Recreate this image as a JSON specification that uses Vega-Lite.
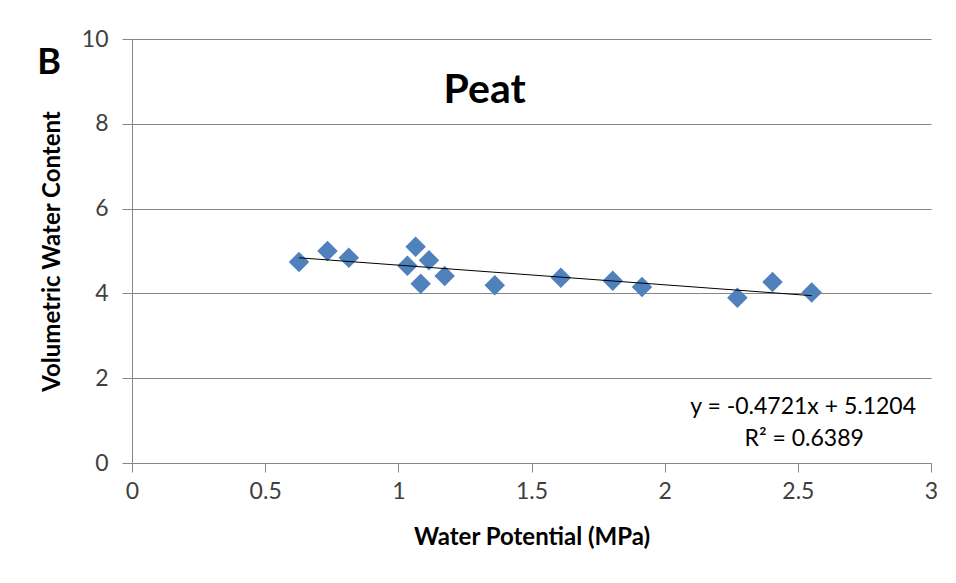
{
  "$schema": "https://vega.github.io/schema/vega-lite/v6.json",
  "width": 799,
  "height": 424,
  "autosize": {"type": "none"},
  "padding": {"left": 132, "top": 39, "right": 25, "bottom": 120},
  "background": "white",
  "config": {
    "font": "Lato",
    "view": {"stroke": null}
  },
  "datasets": {
    "points": [
      {"wp": 0.627, "vwc": 4.74},
      {"wp": 0.734, "vwc": 5.00},
      {"wp": 0.814, "vwc": 4.84},
      {"wp": 1.065, "vwc": 5.10},
      {"wp": 1.034, "vwc": 4.65},
      {"wp": 1.115, "vwc": 4.78},
      {"wp": 1.084, "vwc": 4.23},
      {"wp": 1.174, "vwc": 4.41},
      {"wp": 1.362, "vwc": 4.19},
      {"wp": 1.610, "vwc": 4.37},
      {"wp": 1.805, "vwc": 4.30},
      {"wp": 1.915, "vwc": 4.15},
      {"wp": 2.273, "vwc": 3.90},
      {"wp": 2.405, "vwc": 4.27},
      {"wp": 2.552, "vwc": 4.02}
    ],
    "labels": [
      {"label": "B", "lx": -0.311, "ly": 9.17, "kind": "panel"},
      {"label": "Peat", "lx": 1.324, "ly": 8.5, "kind": "title"},
      {"label": "y = -0.4721x + 5.1204", "lx": 2.52, "ly": 1.166, "kind": "eq"},
      {"label": "R² = 0.6389", "lx": 2.524, "ly": 0.4, "kind": "eq"}
    ]
  },
  "layer": [
    {
      "data": {"name": "points"},
      "mark": {"type": "point", "shape": "diamond", "filled": true, "size": 420, "color": "#4F81BD", "opacity": 1},
      "encoding": {
        "x": {
          "field": "wp", "type": "quantitative",
          "scale": {"domain": [0, 3], "nice": false, "zero": false},
          "axis": {
            "title": "Water Potential (MPa)",
            "values": [0, 0.5, 1, 1.5, 2, 2.5, 3],
            "format": "~g",
            "grid": false,
            "domainColor": "#868686",
            "tickColor": "#868686",
            "tickSize": 9,
            "labelFontSize": 23,
            "labelColor": "#404040",
            "labelPadding": 8,
            "labelFlush": false,
            "titleFontSize": 24,
            "titleFontWeight": "bold",
            "titleColor": "#000000",
            "titlePadding": 22
          }
        },
        "y": {
          "field": "vwc", "type": "quantitative",
          "scale": {"domain": [0, 10], "nice": false, "zero": false},
          "axis": {
            "title": "Volumetric Water Content",
            "values": [0, 2, 4, 6, 8, 10],
            "grid": true,
            "gridColor": "#868686",
            "gridWidth": 1,
            "domainColor": "#868686",
            "tickColor": "#868686",
            "tickSize": 10,
            "labelFontSize": 23,
            "labelColor": "#404040",
            "labelPadding": 14,
            "labelFlush": false,
            "titleFontSize": 24,
            "titleFontWeight": "bold",
            "titleColor": "#000000",
            "titlePadding": 17
          }
        }
      }
    },
    {
      "data": {"name": "points"},
      "transform": [{"regression": "vwc", "on": "wp", "method": "linear"}],
      "mark": {"type": "line", "color": "#000000", "strokeWidth": 1},
      "encoding": {
        "x": {"field": "wp", "type": "quantitative"},
        "y": {"field": "vwc", "type": "quantitative"}
      }
    },
    {
      "data": {"name": "labels"},
      "transform": [{"filter": "datum.kind == 'panel'"}],
      "mark": {"type": "text", "font": "Lato", "fontSize": 36, "fontWeight": "bold", "align": "center", "baseline": "alphabetic", "color": "#000000"},
      "encoding": {
        "x": {"field": "lx", "type": "quantitative"},
        "y": {"field": "ly", "type": "quantitative"},
        "text": {"field": "label"}
      }
    },
    {
      "data": {"name": "labels"},
      "transform": [{"filter": "datum.kind == 'title'"}],
      "mark": {"type": "text", "font": "Lato", "fontSize": 41, "fontWeight": "bold", "align": "center", "baseline": "alphabetic", "color": "#000000"},
      "encoding": {
        "x": {"field": "lx", "type": "quantitative"},
        "y": {"field": "ly", "type": "quantitative"},
        "text": {"field": "label"}
      }
    },
    {
      "data": {"name": "labels"},
      "transform": [{"filter": "datum.kind == 'eq'"}],
      "mark": {"type": "text", "font": "Lato", "fontSize": 23, "align": "center", "baseline": "alphabetic", "color": "#000000"},
      "encoding": {
        "x": {"field": "lx", "type": "quantitative"},
        "y": {"field": "ly", "type": "quantitative"},
        "text": {"field": "label"}
      }
    }
  ]
}
